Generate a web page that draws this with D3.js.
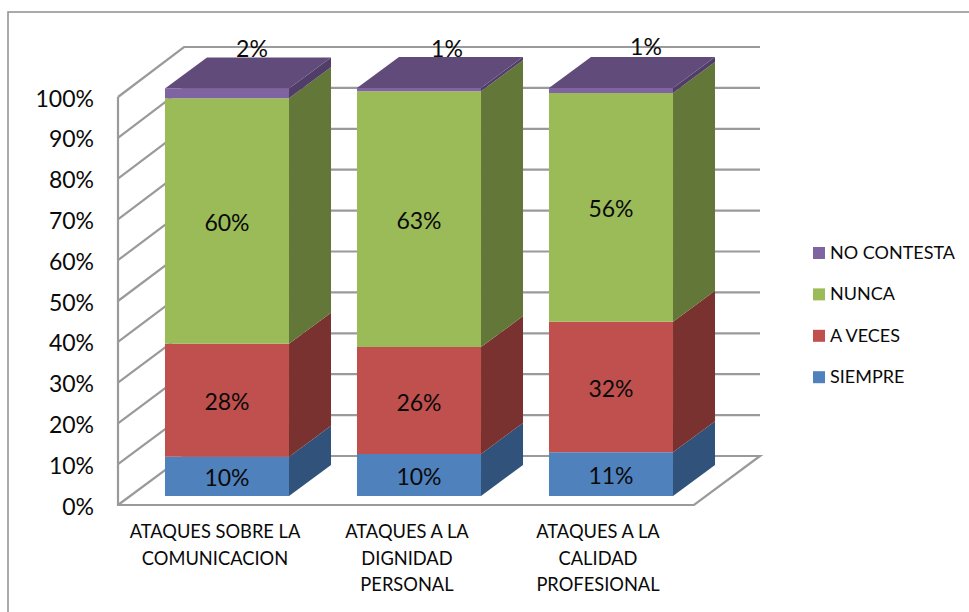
<!DOCTYPE html>
<html><head><meta charset="utf-8">
<style>html,body{margin:0;padding:0;background:#fff}svg{display:block}text{font-family:Lato,"Open Sans",sans-serif;fill:#0a0a0a}</style>
<script src="https://cdn.jsdelivr.net/npm/d3@7/dist/d3.min.js"></script>
</head><body><svg id="c" width="969" height="612"></svg>
<script>
const categories = [["ATAQUES SOBRE LA","COMUNICACION"],["ATAQUES A LA","DIGNIDAD","PERSONAL"],["ATAQUES A LA","CALIDAD","PROFESIONAL"]];
const seriesNames = ["SIEMPRE","A VECES","NUNCA","NO CONTESTA"];
const siempre = [9.6,10.3,10.7];
const aVeces = [27.7,26.2,32.0];
const nunca = [60.2,62.7,56.1];
const noContesta = [2.4,0.8,1.2];
const yTicks = [0,10,20,30,40,50,60,70,80,90,100];

const seriesValues = [siempre,aVeces,nunca,noContesta];
const front = ["#4F81BD","#C0504D","#9BBB59","#8064A2"];
const side = ["#31527A","#7A3230","#637739","#513E68"];
const topFace = "#614B7A";
const grid = "#9a9a9a";
const svg = d3.select("#c");

svg.append("path").attr("d","M969,12H8V612").attr("fill","none").attr("stroke","#8e8e8e").attr("stroke-width",1.5);

const yWall = d3.scaleLinear().domain([0,100]).range([505,97]);
const yBar = d3.scaleLinear().domain([0,100]).range([496,88]);
const wallDx = 66, wallRight = 694, wallLeft = 118;
const backY = d3.scaleLinear().domain([0,100]).range([456,47]);
const band = d3.scaleBand().domain(d3.range(3)).range([131,707]).paddingInner(0.354).paddingOuter(0.177);
const barDx = 42, barDy = -31;

const g = svg.append("g").attr("fill","none").attr("stroke",grid).attr("stroke-width",2.2);
g.selectAll("path.g").data(yTicks.filter(d=>d>0)).join("path").attr("class","g")
  .attr("d",d=>`M${wallLeft},${yWall(d)}L${wallLeft+wallDx},${backY(d)}H${wallRight+wallDx}`);
g.append("path").attr("d",`M${wallLeft},${yWall(100)}V${yWall(0)}H${wallRight}L${wallRight+wallDx},${backY(0)}H${wallLeft+wallDx}L${wallLeft},${yWall(0)}`);

const line = d3.line();
categories.forEach((c,i)=>{
  const x0 = band(i), x1 = x0+band.bandwidth();
  let acc = 0;
  const bar = svg.append("g");
  seriesValues.forEach((s,k)=>{
    const yb = yBar(acc), yt = yBar(acc+s[i]);
    acc += s[i];
    bar.append("path").attr("fill",front[k]).attr("d",line([[x0,yb],[x1,yb],[x1,yt],[x0,yt]])+"Z");
    bar.append("path").attr("fill",side[k]).attr("d",line([[x1,yb],[x1+barDx,yb+barDy],[x1+barDx,yt+barDy],[x1,yt]])+"Z");
    if(k===seriesValues.length-1){
      bar.append("path").attr("fill",topFace).attr("d",line([[x0,yt],[x0+barDx,yt+barDy],[x1+barDx,yt+barDy],[x1,yt]])+"Z");
    }
  });
});

// value labels
const fmt = v => d3.format(".0f")(v)+"%";
const lastLabelShift = [[25,-45],[28,-42],[35,-44]];
categories.forEach((c,i)=>{
  let acc = 0;
  seriesValues.forEach((s,k)=>{
    const mid = acc+s[i]/2; acc += s[i];
    const last = k===seriesValues.length-1;
    const sh = last ? lastLabelShift[i] : [0,0];
    svg.append("text").attr("text-anchor","middle").attr("font-size",23)
      .attr("x",band(i)+band.bandwidth()/2+sh[0]).attr("y",yBar(mid)+sh[1]+(last?9:10)).text(fmt(s[i]));
  });
});

// y axis
const axis = svg.append("g").attr("transform","translate(94,0)")
  .call(d3.axisLeft(yWall).tickValues(yTicks).tickFormat(d=>d+"%").tickSize(0).tickPadding(0));
axis.select(".domain").remove();
axis.selectAll("text").attr("font-size",23).attr("dy",null).attr("transform","translate(0,9)").style("fill","#0a0a0a");

// category labels
const catCenter = [215,407,598];
categories.forEach((c,i)=>{
  c.forEach((t,j)=>{
    svg.append("text").attr("text-anchor","middle").attr("font-size",18.3)
      .attr("x",catCenter[i]).attr("y",538+j*26.5).text(t);
  });
});

// legend
const legendRows = [3,2,1,0];
legendRows.forEach((k,r)=>{
  const y = 253+r*41.4;
  svg.append("rect").attr("x",813).attr("y",y-6).attr("width",12).attr("height",12).attr("fill",front[k]);
  svg.append("text").attr("x",830).attr("y",y+6).attr("font-size",18).text(seriesNames[k]);
});
</script></body></html>
